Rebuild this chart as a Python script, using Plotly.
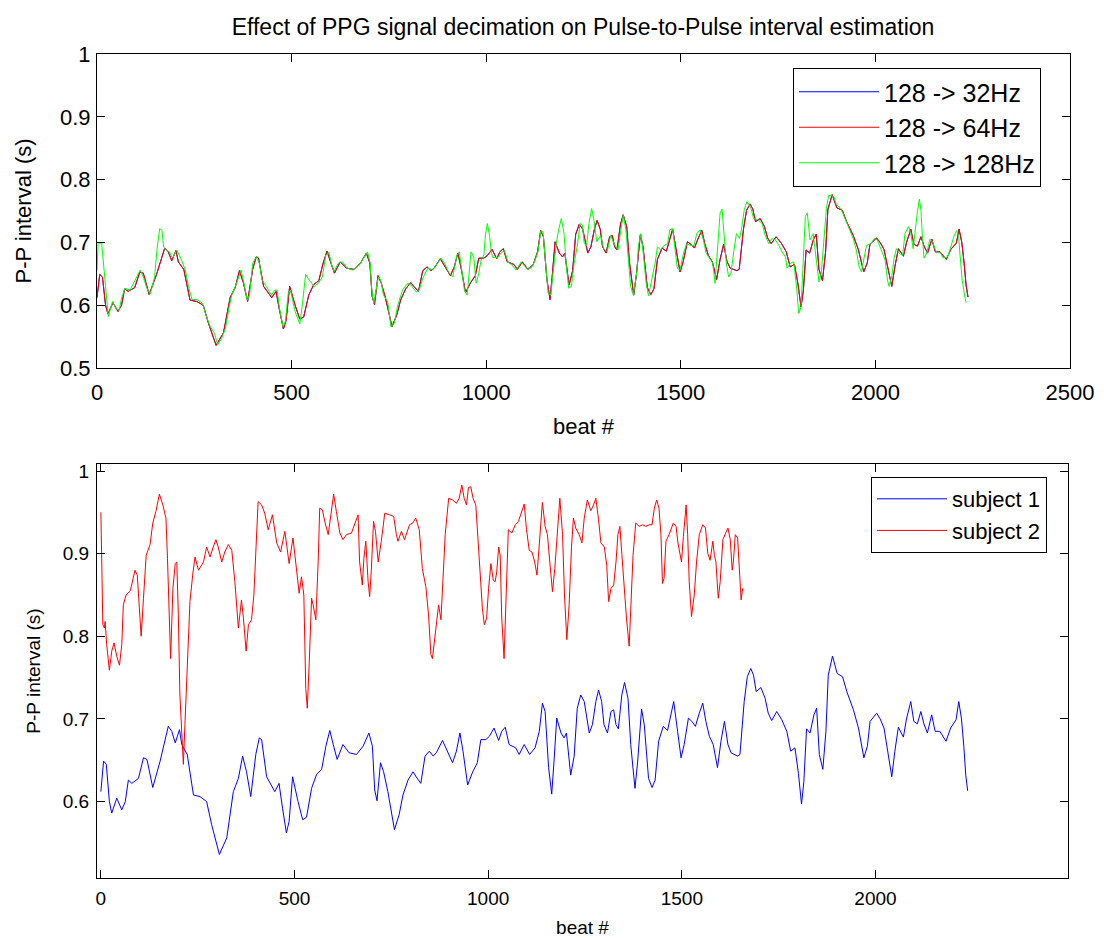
import plotly.graph_objects as go

# ---------------- data ----------------
# subject 1 (also the 128 -> 32Hz / 128 -> 64Hz traces of the top panel)
s1_beat = [0, 7, 14, 22, 28, 41, 54, 63, 71, 80, 97, 110, 119, 134, 153, 174, 183, 192, 203, 209,
           223, 239, 256, 273, 286, 306, 325, 342, 355, 366, 376, 387, 400, 409, 415, 428, 449, 460,
           469, 479, 486, 495, 509, 521, 531, 544, 557, 570, 581, 591, 600, 610, 625, 641, 660, 677,
           692, 701, 707, 713, 722, 730, 741, 758, 770, 780, 793, 806, 814, 826, 837, 848, 858, 866,
           882, 895, 908, 918, 927, 935, 947, 960, 972, 981, 994, 1003, 1015, 1027, 1035, 1044, 1054,
           1071, 1080, 1093, 1107, 1121, 1132, 1140, 1147, 1156, 1164, 1170, 1177, 1188, 1196, 1202,
           1213, 1222, 1230, 1239, 1248, 1261, 1269, 1278, 1285, 1293, 1299, 1308, 1317, 1324, 1330,
           1336, 1345, 1352, 1361, 1368, 1379, 1386, 1396, 1403, 1414, 1423, 1431, 1440, 1452, 1463,
           1472, 1479, 1489, 1498, 1506, 1517, 1526, 1535, 1545, 1554, 1562, 1571, 1581, 1592, 1601,
           1610, 1619, 1627, 1644, 1650, 1661, 1669, 1678, 1685, 1692, 1704, 1715, 1723, 1732, 1745,
           1758, 1771, 1781, 1792, 1801, 1809, 1815, 1822, 1831, 1841, 1848, 1855, 1864, 1872, 1878,
           1889, 1901, 1915, 1926, 1943, 1956, 1970, 1979, 1986, 2003, 2012, 2022, 2033, 2042, 2050,
           2059, 2072, 2080, 2091, 2099, 2108, 2117, 2125, 2134, 2145, 2154, 2166, 2182, 2194, 2208,
           2215, 2222, 2228, 2233, 2238]
s1_pp = [0.612, 0.649, 0.645, 0.600, 0.586, 0.604, 0.590, 0.600, 0.626, 0.622, 0.628, 0.653, 0.651,
         0.617, 0.649, 0.691, 0.685, 0.671, 0.687, 0.669, 0.657, 0.608, 0.606, 0.600, 0.572, 0.536,
         0.556, 0.612, 0.628, 0.655, 0.636, 0.606, 0.657, 0.677, 0.675, 0.630, 0.612, 0.622, 0.592,
         0.562, 0.576, 0.630, 0.600, 0.578, 0.581, 0.616, 0.633, 0.639, 0.667, 0.686, 0.669, 0.651,
         0.669, 0.659, 0.657, 0.667, 0.683, 0.667, 0.614, 0.601, 0.647, 0.636, 0.612, 0.566, 0.584,
         0.608, 0.626, 0.636, 0.630, 0.622, 0.655, 0.661, 0.655, 0.659, 0.674, 0.661, 0.647, 0.661,
         0.683, 0.661, 0.620, 0.636, 0.647, 0.675, 0.675, 0.679, 0.689, 0.674, 0.685, 0.690, 0.669,
         0.665, 0.657, 0.669, 0.657, 0.665, 0.685, 0.719, 0.709, 0.641, 0.609, 0.649, 0.701, 0.683,
         0.677, 0.683, 0.632, 0.655, 0.713, 0.729, 0.721, 0.683, 0.693, 0.721, 0.735, 0.721, 0.693,
         0.683, 0.709, 0.711, 0.693, 0.688, 0.729, 0.744, 0.725, 0.669, 0.616, 0.649, 0.712, 0.693,
         0.628, 0.617, 0.626, 0.673, 0.691, 0.686, 0.705, 0.721, 0.685, 0.653, 0.669, 0.701, 0.697,
         0.691, 0.707, 0.719, 0.697, 0.679, 0.669, 0.641, 0.673, 0.697, 0.669, 0.659, 0.655, 0.657,
         0.721, 0.751, 0.761, 0.753, 0.733, 0.738, 0.725, 0.707, 0.698, 0.709, 0.699, 0.685, 0.661,
         0.665, 0.634, 0.597, 0.624, 0.688, 0.683, 0.705, 0.713, 0.657, 0.639, 0.685, 0.753, 0.776,
         0.755, 0.751, 0.733, 0.711, 0.689, 0.653, 0.667, 0.697, 0.707, 0.700, 0.689, 0.657, 0.630,
         0.661, 0.690, 0.678, 0.700, 0.721, 0.697, 0.694, 0.709, 0.694, 0.683, 0.705, 0.685, 0.685,
         0.673, 0.689, 0.699, 0.721, 0.700, 0.667, 0.632, 0.613]

# subject 2
s2_beat = [0, 1, 3, 5, 9, 11, 15, 22, 28, 34, 41, 48, 54, 58, 65, 76, 82, 88, 94, 100, 104, 110, 117,
           127, 134, 142, 151, 160, 168, 172, 177, 180, 186, 192, 196, 200, 204, 209, 213, 217, 223,
           230, 237, 243, 252, 265, 273, 282, 290, 297, 303, 312, 320, 329, 338, 346, 355, 363, 368,
           375, 381, 389, 395, 400, 406, 415, 423, 432, 443, 454, 464, 475, 486, 496, 505, 512, 518,
           524, 529, 533, 538, 544, 548, 555, 561, 565, 572, 578, 587, 593, 601, 608, 617, 625, 634,
           647, 658, 664, 668, 675, 679, 684, 690, 694, 698, 704, 709, 716, 724, 733, 746, 756, 763,
           767, 776, 784, 797, 805, 813, 822, 830, 839, 846, 852, 856, 863, 872, 878, 882, 889, 898,
           908, 918, 925, 932, 938, 944, 949, 955, 961, 968, 975, 981, 985, 990, 996, 1001, 1007, 1013,
           1018, 1022, 1027, 1031, 1035, 1041, 1046, 1052, 1061, 1070, 1078, 1087, 1093, 1099, 1106,
           1113, 1120, 1126, 1132, 1136, 1140, 1147, 1153, 1159, 1166, 1172, 1179, 1185, 1192, 1197,
           1203, 1209, 1215, 1220, 1226, 1235, 1242, 1248, 1256, 1265, 1272, 1278, 1285, 1291, 1300,
           1306, 1311, 1317, 1324, 1330, 1335, 1340, 1345, 1351, 1357, 1364, 1368, 1374, 1381, 1390,
           1398, 1407, 1416, 1423, 1429, 1435, 1441, 1446, 1450, 1454, 1459, 1467, 1478, 1485, 1490,
           1495, 1499, 1504, 1511, 1515, 1519, 1525, 1532, 1538, 1545, 1554, 1561, 1567, 1573, 1580,
           1584, 1588, 1594, 1599, 1606, 1613, 1619, 1625, 1630, 1633, 1638, 1644, 1649, 1653, 1657]
s2_pp = [0.950, 0.894, 0.870, 0.814, 0.810, 0.818, 0.790, 0.759, 0.782, 0.792, 0.776, 0.765, 0.790,
         0.838, 0.850, 0.855, 0.868, 0.880, 0.874, 0.826, 0.800, 0.846, 0.898, 0.911, 0.937, 0.951,
         0.972, 0.959, 0.943, 0.894, 0.822, 0.773, 0.858, 0.888, 0.890, 0.826, 0.729, 0.673, 0.645,
         0.693, 0.757, 0.842, 0.874, 0.896, 0.880, 0.890, 0.908, 0.896, 0.908, 0.917, 0.908, 0.890,
         0.902, 0.911, 0.904, 0.866, 0.810, 0.844, 0.822, 0.782, 0.814, 0.820, 0.850, 0.911, 0.963,
         0.959, 0.949, 0.929, 0.947, 0.913, 0.902, 0.927, 0.888, 0.919, 0.882, 0.852, 0.872, 0.850,
         0.737, 0.713, 0.769, 0.846, 0.838, 0.820, 0.890, 0.955, 0.953, 0.939, 0.923, 0.945, 0.972,
         0.951, 0.925, 0.917, 0.923, 0.925, 0.941, 0.947, 0.890, 0.862, 0.894, 0.915, 0.866, 0.848,
         0.878, 0.939, 0.927, 0.890, 0.915, 0.949, 0.947, 0.945, 0.923, 0.915, 0.927, 0.917, 0.935,
         0.937, 0.943, 0.929, 0.882, 0.860, 0.826, 0.778, 0.773, 0.802, 0.838, 0.820, 0.854, 0.923,
         0.967, 0.965, 0.961, 0.967, 0.983, 0.967, 0.959, 0.980, 0.981, 0.967, 0.959, 0.911, 0.862,
         0.834, 0.814, 0.822, 0.858, 0.888, 0.868, 0.866, 0.878, 0.908, 0.898, 0.822, 0.773, 0.846,
         0.929, 0.925, 0.935, 0.939, 0.951, 0.960, 0.929, 0.904, 0.902, 0.890, 0.874, 0.915, 0.939,
         0.962, 0.933, 0.923, 0.890, 0.854, 0.882, 0.935, 0.967, 0.923, 0.850, 0.796, 0.838, 0.907,
         0.943, 0.931, 0.923, 0.913, 0.943, 0.965, 0.952, 0.959, 0.967, 0.941, 0.913, 0.908, 0.886,
         0.842, 0.858, 0.862, 0.890, 0.923, 0.933, 0.900, 0.858, 0.822, 0.788, 0.826, 0.898, 0.937,
         0.933, 0.935, 0.933, 0.935, 0.935, 0.955, 0.965, 0.955, 0.923, 0.864, 0.870, 0.915, 0.923,
         0.937, 0.933, 0.913, 0.898, 0.890, 0.921, 0.959, 0.923, 0.866, 0.824, 0.850, 0.890, 0.923,
         0.935, 0.931, 0.900, 0.892, 0.915, 0.898, 0.890, 0.846, 0.866, 0.917, 0.925, 0.931, 0.917,
         0.880, 0.890, 0.923, 0.919, 0.866, 0.844, 0.858]

# top panel: 128 -> 32Hz and 128 -> 64Hz overlap subject 1 in the picture
d32_beat, d32_pp = s1_beat, s1_pp
d64_beat, d64_pp = s1_beat, s1_pp

# top panel: 128 -> 128Hz
d128_beat = [0, 3, 12, 20, 29, 40, 48, 57, 63, 72, 85, 98, 111, 119, 128, 137, 148, 154, 161, 167,
             171, 177, 186, 194, 205, 217, 227, 235, 244, 257, 271, 280, 291, 302, 310, 320, 330, 339,
             347, 360, 370, 377, 386, 392, 400, 410, 417, 424, 435, 448, 457, 463, 469, 478, 484, 491,
             497, 509, 521, 528, 536, 545, 558, 569, 579, 588, 596, 603, 609, 620, 631, 643, 656, 674,
             686, 695, 702, 705, 711, 717, 723, 729, 736, 747, 755, 764, 772, 785, 798, 807, 820, 828,
             837, 850, 863, 875, 884, 893, 903, 914, 925, 931, 936, 944, 951, 957, 961, 968, 974, 980,
             987, 994, 998, 1003, 1009, 1013, 1017, 1030, 1039, 1047, 1056, 1066, 1077, 1090, 1103,
             1116, 1126, 1133, 1140, 1146, 1152, 1159, 1166, 1172, 1180, 1186, 1193, 1200, 1206, 1212,
             1219, 1226, 1235, 1241, 1247, 1252, 1258, 1264, 1271, 1277, 1284, 1294, 1302, 1311, 1320,
             1328, 1339, 1346, 1352, 1359, 1365, 1371, 1378, 1387, 1391, 1398, 1404, 1411, 1417, 1425,
             1434, 1440, 1448, 1457, 1466, 1472, 1479, 1485, 1491, 1498, 1507, 1515, 1526, 1534, 1541,
             1550, 1558, 1565, 1574, 1582, 1588, 1594, 1601, 1606, 1610, 1617, 1623, 1629, 1636, 1643,
             1651, 1657, 1663, 1670, 1679, 1687, 1698, 1709, 1717, 1726, 1734, 1743, 1752, 1760, 1769,
             1773, 1782, 1790, 1797, 1803, 1809, 1816, 1820, 1825, 1832, 1840, 1846, 1855, 1861, 1868,
             1874, 1880, 1893, 1900, 1911, 1922, 1932, 1943, 1951, 1958, 1964, 1971, 1977, 1988, 1997,
             2005, 2016, 2025, 2031, 2035, 2042, 2048, 2054, 2061, 2070, 2076, 2085, 2091, 2097, 2104,
             2108, 2113, 2117, 2121, 2125, 2132, 2140, 2147, 2156, 2168, 2174, 2186, 2194, 2203, 2209,
             2214, 2217, 2223, 2229, 2233]
d128_pp = [0.655, 0.700, 0.698, 0.640, 0.582, 0.606, 0.595, 0.592, 0.611, 0.627, 0.624, 0.640, 0.656,
           0.645, 0.627, 0.618, 0.645, 0.688, 0.722, 0.719, 0.693, 0.688, 0.685, 0.675, 0.688, 0.672,
           0.656, 0.630, 0.609, 0.609, 0.603, 0.584, 0.566, 0.555, 0.537, 0.547, 0.563, 0.595, 0.618,
           0.637, 0.656, 0.637, 0.608, 0.616, 0.667, 0.678, 0.667, 0.640, 0.630, 0.616, 0.624, 0.624,
           0.595, 0.566, 0.574, 0.618, 0.624, 0.590, 0.570, 0.603, 0.649, 0.640, 0.630, 0.635, 0.645,
           0.680, 0.684, 0.664, 0.654, 0.667, 0.669, 0.659, 0.656, 0.664, 0.675, 0.685, 0.667, 0.630,
           0.603, 0.624, 0.645, 0.640, 0.616, 0.606, 0.566, 0.571, 0.598, 0.624, 0.635, 0.632, 0.621,
           0.624, 0.643, 0.659, 0.656, 0.667, 0.675, 0.667, 0.653, 0.645, 0.680, 0.685, 0.661, 0.624,
           0.616, 0.656, 0.685, 0.677, 0.635, 0.648, 0.672, 0.680, 0.712, 0.730, 0.709, 0.685, 0.676,
           0.676, 0.684, 0.687, 0.669, 0.664, 0.656, 0.669, 0.659, 0.659, 0.672, 0.685, 0.717, 0.717,
           0.677, 0.619, 0.616, 0.656, 0.698, 0.720, 0.738, 0.714, 0.661, 0.627, 0.630, 0.667, 0.698,
           0.730, 0.728, 0.698, 0.695, 0.730, 0.754, 0.735, 0.701, 0.711, 0.690, 0.685, 0.711, 0.698,
           0.688, 0.720, 0.743, 0.720, 0.672, 0.630, 0.616, 0.653, 0.695, 0.714, 0.680, 0.635, 0.615,
           0.640, 0.667, 0.693, 0.688, 0.695, 0.698, 0.720, 0.722, 0.690, 0.659, 0.656, 0.683, 0.698,
           0.695, 0.695, 0.714, 0.720, 0.704, 0.683, 0.675, 0.667, 0.635, 0.680, 0.747, 0.753, 0.725,
           0.667, 0.645, 0.651, 0.685, 0.714, 0.706, 0.725, 0.752, 0.765, 0.757, 0.738, 0.736, 0.730,
           0.711, 0.698, 0.706, 0.704, 0.695, 0.685, 0.677, 0.659, 0.667, 0.669, 0.632, 0.587, 0.597,
           0.693, 0.741, 0.747, 0.704, 0.714, 0.685, 0.637, 0.651, 0.706, 0.754, 0.775, 0.773, 0.760,
           0.754, 0.738, 0.722, 0.706, 0.688, 0.661, 0.653, 0.677, 0.695, 0.698, 0.706, 0.704, 0.685,
           0.672, 0.640, 0.630, 0.645, 0.675, 0.690, 0.683, 0.679, 0.714, 0.725, 0.714, 0.690, 0.730,
           0.749, 0.769, 0.751, 0.706, 0.675, 0.683, 0.705, 0.701, 0.685, 0.683, 0.675, 0.677, 0.693,
           0.712, 0.719, 0.709, 0.683, 0.640, 0.616, 0.604]

top_xticks = [0, 500, 1000, 1500, 2000, 2500]
top_yticks = [0.5, 0.6, 0.7, 0.8, 0.9, 1.0]
top_yticktext = ["0.5", "0.6", "0.7", "0.8", "0.9", "1"]
bot_xticks = [0, 500, 1000, 1500, 2000]
bot_yticks = [0.6, 0.7, 0.8, 0.9, 1.0]
bot_yticktext = ["0.6", "0.7", "0.8", "0.9", "1"]

# ---------------- figure ----------------
FONT = "Liberation Sans, Arial, Helvetica, sans-serif"
OFF = 8                      # page body margin of the html page
W, H = 1104 - OFF, 938 - OFF
# page-pixel geometry of the reference, converted to figure pixels
ML = 97 - OFF
MR = (1104 - 1070)
MT = 54 - OFF
MB = 938 - 878
PW, PH = W - ML - MR, H - MT - MB


def py(page_y):
    return (H - MB - (page_y - OFF)) / PH


def px(page_x):
    return ((page_x - OFF) - ML) / PW


fig = go.Figure()
fig.add_trace(go.Scatter(x=d32_beat, y=d32_pp, mode="lines", name="128 -> 32Hz",
                         line=dict(color="#0000ff", width=1), xaxis="x", yaxis="y", legend="legend"))
fig.add_trace(go.Scatter(x=d64_beat, y=d64_pp, mode="lines", name="128 -> 64Hz",
                         line=dict(color="#ff0000", width=1), xaxis="x", yaxis="y", legend="legend"))
fig.add_trace(go.Scatter(x=d128_beat, y=d128_pp, mode="lines", name="128 -> 128Hz",
                         line=dict(color="#00ff00", width=1), xaxis="x", yaxis="y", legend="legend"))
fig.add_trace(go.Scatter(x=s1_beat, y=s1_pp, mode="lines", name="subject 1",
                         line=dict(color="#0000ff", width=1), xaxis="x2", yaxis="y2", legend="legend2"))
fig.add_trace(go.Scatter(x=s2_beat, y=s2_pp, mode="lines", name="subject 2",
                         line=dict(color="#ff0000", width=1), xaxis="x2", yaxis="y2", legend="legend2"))

axis_common = dict(showline=True, linecolor="black", linewidth=1, mirror="ticks", ticks="inside",
                   ticklen=8, tickcolor="black", showgrid=False, zeroline=False, automargin=False)

fig.update_layout(
    width=W, height=H,
    margin=dict(l=ML, r=MR, t=MT, b=MB),
    paper_bgcolor="white", plot_bgcolor="white",
    font=dict(family=FONT, color="black"),
    title=dict(text="Effect of PPG signal decimation on Pulse-to-Pulse interval estimation",
               x=(583 - OFF) / W, xanchor="center", y=1 - (27 - OFF) / H, yanchor="middle",
               font=dict(size=23, family=FONT, color="black")),
    xaxis=dict(domain=[0, 1], anchor="y", range=[0, 2500], tickvals=top_xticks,
               tickfont=dict(size=22), ticklabelstandoff=5,
               title=dict(text="beat #", font=dict(size=22), standoff=14),
               **axis_common),
    yaxis=dict(domain=[py(368), 1.0], anchor="x", range=[0.5, 1.0], tickvals=top_yticks,
               ticktext=top_yticktext, tickfont=dict(size=22), ticklabelstandoff=1,
               title=dict(text="P-P interval (s)", font=dict(size=22), standoff=22),
               **axis_common),
    xaxis2=dict(domain=[0, px(1068)], anchor="y2", range=[-10, 2497], tickvals=bot_xticks,
                tickfont=dict(size=19), ticklabelstandoff=3,
                title=dict(text="beat #", font=dict(size=19), standoff=12),
                **axis_common),
    yaxis2=dict(domain=[0, py(464)], anchor="x2", range=[0.5075, 1.0085], tickvals=bot_yticks,
                ticktext=bot_yticktext, tickfont=dict(size=19), ticklabelstandoff=3,
                title=dict(text="P-P interval (s)", font=dict(size=19), standoff=17),
                **axis_common),
    legend=dict(x=px(793), y=py(68), xanchor="left", yanchor="top", bgcolor="white",
                bordercolor="black", borderwidth=1, font=dict(size=25, family=FONT),
                itemwidth=80, tracegroupgap=0),
    legend2=dict(x=px(871), y=py(477), xanchor="left", yanchor="top", bgcolor="white",
                 bordercolor="black", borderwidth=1, font=dict(size=22, family=FONT),
                 itemwidth=70),
    showlegend=True,
)

fig.write_html("out.html")
